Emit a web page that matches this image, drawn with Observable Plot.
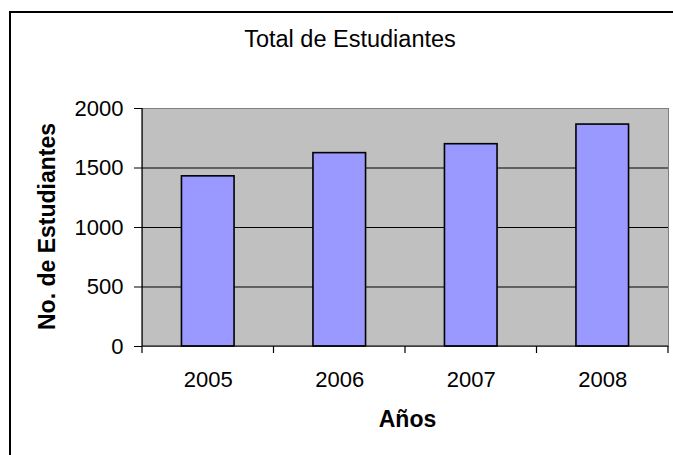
<!DOCTYPE html>
<html>
<head>
<meta charset="utf-8">
<script src="https://cdn.jsdelivr.net/npm/d3@7"></script>
<script src="https://cdn.jsdelivr.net/npm/@observablehq/plot@0.6"></script>
<style>
  html, body { margin: 0; padding: 0; background: #fff; }
  #wrap { position: relative; width: 673px; height: 455px; overflow: hidden; }
  #border { position: absolute; left: 9px; top: 11px; width: 700px; height: 460px;
            border-left: 2px solid #000; border-top: 2px solid #000; pointer-events: none; }
</style>
</head>
<body>
<div id="wrap"><div id="chart"></div><div id="border"></div></div>
<script>
const title = "Total de Estudiantes";
const xLabel = "Años";
const yLabel = "No. de Estudiantes";
const years = ["2005", "2006", "2007", "2008"];
const students = [1430, 1625, 1700, 1865];
const yTicks = [0, 500, 1000, 1500, 2000];
const gridValues = [500, 1000, 1500];

const data = years.map((y, i) => ({year: y, value: students[i]}));
const FONT = "'Liberation Sans', Arial, sans-serif";

function axisLines(index, scales, values, dims) {
  const g = d3.create("svg:g").attr("stroke", "#000").attr("stroke-width", 1.2);
  const x0 = dims.marginLeft, x1 = dims.width - dims.marginRight;
  const y0 = dims.marginTop, yb = dims.height - dims.marginBottom;
  const n = years.length;
  g.append("line").attr("x1", x0).attr("x2", x0).attr("y1", y0).attr("y2", yb + 7);
  g.append("line").attr("x1", x0).attr("x2", x1).attr("y1", yb).attr("y2", yb);
  for (let i = 1; i <= n; i++) {
    const x = x0 + (x1 - x0) * i / n;
    g.append("line").attr("x1", x).attr("x2", x).attr("y1", yb).attr("y2", yb + 7);
  }
  return g.node();
}

const chart = Plot.plot({
  width: 673,
  height: 455,
  marginLeft: 142,
  marginRight: 5,
  marginTop: 108,
  marginBottom: 109,
  style: {fontFamily: FONT, background: "transparent", color: "#000"},
  x: {domain: years, paddingInner: 0.6, paddingOuter: 0.3, round: false, axis: null},
  y: {domain: [0, 2000], axis: null},
  marks: [
    Plot.frame({fill: "#C0C0C0", stroke: "#808080", strokeWidth: 1}),
    Plot.ruleY(gridValues, {stroke: "#000", strokeWidth: 1}),
    Plot.barY(data, {x: "year", y: "value", fill: "#9999FF", stroke: "#000", strokeWidth: 1.6, inset: 0}),
    axisLines,
    Plot.axisY(yTicks, {tickSize: 8, tickPadding: 11, fontSize: 22, stroke: "#000", fill: "#000", label: null, tickFormat: d => String(d)}),
    Plot.axisX({tickSize: 0, tickPadding: 25, fontSize: 22, fill: "#000", label: null}),
    Plot.text([title], {frameAnchor: "top", dx: -55.5, dy: -69, fontSize: 23.5, fill: "#000", textAnchor: "middle", lineAnchor: "middle"}),
    Plot.text([xLabel], {frameAnchor: "bottom", dx: 2, dy: 73, fontSize: 23, fontWeight: "bold", fill: "#000", textAnchor: "middle", lineAnchor: "middle"}),
    Plot.text([yLabel], {frameAnchor: "left", dx: -95, dy: -1, rotate: -90, fontSize: 23, fontWeight: "bold", fill: "#000", textAnchor: "middle", lineAnchor: "middle"})
  ]
});
document.getElementById("chart").appendChild(chart);
</script>
</body>
</html>
